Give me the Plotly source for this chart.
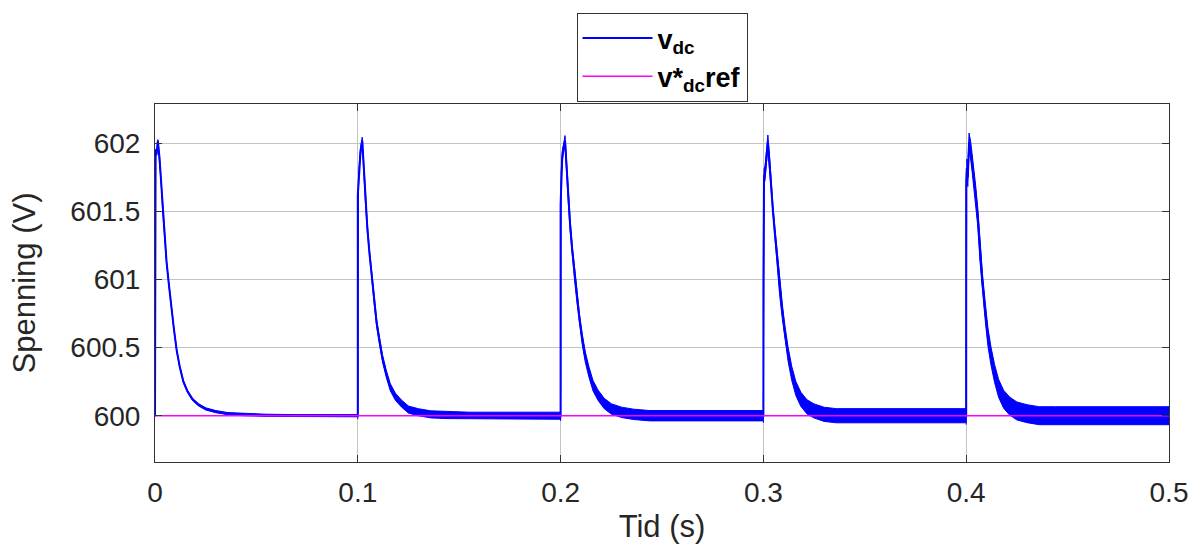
import plotly.graph_objects as go

# Load steps applied every 0.1 s
step_times = [0.0, 0.1, 0.2, 0.3, 0.4]

# Time after each step (s); the first entry is the sample just before the jump
dt_after_step = [0.0, 0.0, 0.0003, 0.0008, 0.0014, 0.0022, 0.003, 0.0038, 0.0047,
                 0.0057, 0.0068, 0.008, 0.0093, 0.0107, 0.0122, 0.014, 0.016,
                 0.0185, 0.0215, 0.025, 0.03, 0.036, 0.044, 0.055, 0.07, 0.085, 0.1]

# DC-link voltage (V) after each step
vdc_seg1 = [600.0, 601.5, 601.95, 601.92, 602.02, 601.9, 601.72, 601.5, 601.3,
            601.13, 600.97, 600.8, 600.64, 600.48, 600.36, 600.25, 600.18,
            600.12, 600.08, 600.05, 600.03, 600.015, 600.008, 600.003, 600.0, 600.0, 600.0]
vdc_seg2 = [600.0, 601.62, 601.7, 601.85, 601.95, 602.02, 601.8, 601.58, 601.38,
            601.2, 601.03, 600.86, 600.68, 600.55, 600.42, 600.31, 600.21,
            600.14, 600.09, 600.045, 600.025, 600.01, 600.005, 600.0, 600.0, 600.0, 600.0]
vdc_seg3 = [600.0, 601.55, 601.75, 601.9, 601.97, 602.02, 601.82, 601.6, 601.4,
            601.22, 601.05, 600.88, 600.71, 600.56, 600.43, 600.32, 600.22,
            600.15, 600.09, 600.05, 600.025, 600.01, 600.0, 600.0, 600.0, 600.0, 600.0]
vdc_seg4 = [600.0, 600.97, 601.76, 601.78, 601.9, 602.01, 601.86, 601.66, 601.5,
            601.33, 601.16, 600.94, 600.77, 600.6, 600.45, 600.31, 600.2,
            600.12, 600.065, 600.035, 600.01, 600.0, 600.0, 600.0, 600.0, 600.0, 600.0]
vdc_seg5 = [600.0, 601.73, 601.82, 601.75, 602.01, 601.95, 601.85, 601.76, 601.62,
            601.46, 601.2, 600.98, 600.78, 600.58, 600.44, 600.31, 600.2,
            600.12, 600.07, 600.035, 600.015, 600.0, 600.0, 600.0, 600.0, 600.0, 600.0]
vdc_segments = [vdc_seg1, vdc_seg2, vdc_seg3, vdc_seg4, vdc_seg5]

# Switching ripple half-width (V) in each interval
ripple_halfwidth = [0.008, 0.026, 0.038, 0.052, 0.066]

# Reference voltage
t_ref = [0.0, 0.5]
v_ref = [600.0, 600.0]

x_ticks = [0, 0.1, 0.2, 0.3, 0.4, 0.5]
x_ticklabels = ["0", "0.1", "0.2", "0.3", "0.4", "0.5"]
y_ticks = [600, 600.5, 601, 601.5, 602]
y_ticklabels = ["600", "600.5", "601", "601.5", "602"]

BLUE = "#0000ff"
MAGENTA = "#ff00ff"
AXIS = "#333333"
GRID = "#c4c4c4"
FONT = "Liberation Sans"

fig = go.Figure()

t_all, v_all = [], []
for t0, seg, amp in zip(step_times, vdc_segments, ripple_halfwidth):
    t_seg = [t0 + d for d in dt_after_step]
    upper = [v + amp for v in seg]
    lower = [v - amp for v in seg]
    # ripple envelope as a filled band
    fig.add_trace(go.Scatter(
        x=t_seg + t_seg[::-1], y=upper + lower[::-1],
        mode="lines", fill="toself", fillcolor=BLUE,
        line=dict(color=BLUE, width=1),
        showlegend=False, hoverinfo="skip"))
    t_all += t_seg
    v_all += seg

fig.add_trace(go.Scatter(
    x=t_all, y=v_all, mode="lines", name="v<sub>dc</sub>",
    line=dict(color=BLUE, width=2)))

fig.add_trace(go.Scatter(
    x=t_ref, y=v_ref, mode="lines", name="v*<sub>dc</sub>ref",
    line=dict(color=MAGENTA, width=1.5)))

axis_common = dict(
    showgrid=True, gridcolor=GRID, gridwidth=1,
    ticks="inside", ticklen=7, tickcolor=AXIS, tickwidth=1,
    showline=True, linecolor=AXIS, linewidth=1, mirror="ticks",
    zeroline=False, tickfont=dict(family=FONT, size=28, color="#262626"),
)

fig.update_xaxes(
    range=[0, 0.5], tickvals=x_ticks, ticktext=x_ticklabels,
    title=dict(text="Tid (s)", font=dict(family=FONT, size=31, color="#262626"), standoff=14),
    ticklabelstandoff=5, **axis_common)
fig.update_yaxes(
    range=[599.66, 602.29], tickvals=y_ticks, ticktext=y_ticklabels,
    title=dict(text="Spenning (V)", font=dict(family=FONT, size=31, color="#262626"), standoff=25),
    ticklabelstandoff=8, **axis_common)

fig.update_layout(
    width=1198, height=544,
    margin=dict(l=155, r=29, t=104, b=82, autoexpand=False),
    paper_bgcolor="white", plot_bgcolor="white",
    font=dict(family=FONT, color="#262626"),
    legend=dict(
        x=0.5, xanchor="center", y=1.254, yanchor="top",
        bgcolor="white", bordercolor=AXIS, borderwidth=1,
        font=dict(family=FONT, size=27, weight="bold", color="#000000"),
        itemwidth=70, tracegroupgap=0,
    ),
)

fig.write_html("out.html")
